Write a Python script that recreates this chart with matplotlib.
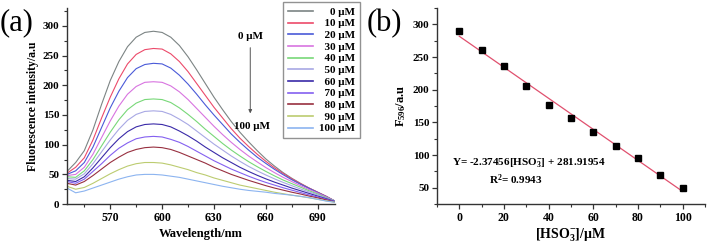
import matplotlib.pyplot as plt
import numpy as np

plt.rcParams['font.family'] = ['Liberation Serif', 'DejaVu Serif']
plt.rcParams['font.weight'] = 'bold'
plt.rcParams['axes.labelweight'] = 'bold'
plt.rcParams['mathtext.fontset'] = 'custom'
plt.rcParams['mathtext.rm'] = 'Liberation Serif:bold'
plt.rcParams['mathtext.it'] = 'Liberation Serif:italic:bold'
plt.rcParams['mathtext.bf'] = 'Liberation Serif:bold'

# panel (a): emission spectra, read every 5 nm
wavelength = list(range(545, 701, 5))
conc_labels = ['0 μM', '10 μM', '20 μM', '30 μM', '40 μM', '50 μM',
               '60 μM', '70 μM', '80 μM', '90 μM', '100 μM']
spec_0 = [55, 70, 90, 125, 168, 208, 240, 265, 281, 289, 291, 289, 281, 267, 248, 226,
          203, 180, 159, 139, 121, 105, 90, 76, 64, 53, 43.5, 35, 27, 20, 13, 5]
spec_10 = [52, 62, 78, 108, 145, 180, 211, 236, 252, 260, 262, 261, 253, 240, 223, 203,
           183, 163, 145, 127, 111, 97, 84, 72, 61, 51.5, 42.5, 34.5, 27, 20, 13, 5]
spec_20 = [50, 56, 70, 96, 129, 162, 190, 213, 228, 235, 237, 236, 229, 217, 202, 185,
           167, 150, 134, 118, 104, 91, 79, 68.5, 58.5, 49.5, 41, 33.5, 26.5, 19.5, 12.5, 5]
spec_30 = [48, 50, 62, 84, 112, 140, 165, 185, 198, 205, 206, 205, 199, 189, 176, 161,
           146, 131, 117, 104, 92, 81, 71, 61.5, 53, 45, 38, 31, 24.5, 18.5, 12, 5]
spec_40 = [46, 45, 56, 75, 98, 121, 142, 159, 170, 176, 177, 176, 171, 162, 151, 139,
           126, 114, 102, 91, 81, 71.5, 63, 55, 47.5, 40.5, 34.5, 28.5, 22.5, 17, 11, 5]
spec_50 = [43, 42, 51, 68, 88, 108, 126, 141, 151, 156, 157, 156, 151, 143, 134, 123,
           112, 101, 91, 81, 72, 63.5, 56, 49, 42.5, 36.5, 31, 25.5, 20.5, 15.5, 10, 5]
spec_60 = [40, 38, 46, 61, 78, 95, 110, 122, 130, 134, 135, 134, 130, 123, 115, 106,
           96, 87, 78, 70, 62, 55, 48.5, 42.5, 37, 32, 27, 22.5, 18, 13.5, 9, 4.5]
spec_70 = [38, 35, 42, 55, 68, 82, 94, 103, 110, 113, 114, 113, 109, 104, 97, 89,
           81, 73, 66, 59, 53, 47, 41.5, 36.5, 32, 27.5, 23.5, 19.5, 15.5, 12, 8, 4]
spec_80 = [35, 32, 38, 48, 59, 70, 79, 87, 92, 95, 96, 95, 92, 87, 81, 75,
           69, 62, 56, 50, 45, 40, 35.5, 31, 27, 23.5, 20, 17, 13.5, 10.5, 7, 3.5]
spec_90 = [30, 25, 28, 35, 43, 51, 58, 64, 68, 70, 70, 69, 66, 62, 58, 53,
           49, 44, 40, 36, 32, 29, 26, 23, 20, 17.5, 15, 13, 10.5, 8, 5.5, 3]
spec_100 = [27, 19, 22, 27, 32, 37, 42, 46, 49, 50, 50, 49, 47, 45, 42, 39,
            36, 33, 30, 27.5, 25, 23, 21.5, 20, 18, 16.5, 15, 13, 11, 8, 5, 3]
spectra = [spec_0, spec_10, spec_20, spec_30, spec_40, spec_50,
           spec_60, spec_70, spec_80, spec_90, spec_100]
colors = ['#7c8484', '#ec4a6a', '#4a5ad8', '#d874e0', '#78d878', '#a8a8e4',
          '#3a2aa8', '#8460f0', '#983040', '#bccc70', '#8cb4f0']

# panel (b): intensity at 596 nm vs concentration
conc = [0, 10, 20, 30, 40, 50, 60, 70, 80, 90, 100]
f596 = [290, 261, 237, 206, 177, 157, 135, 114, 96, 70, 50]
slope = -2.37456
intercept = 281.91954
r2 = 0.9943


def style_axis(ax, xt, xminor, yt, yminor):
    for side in ['top', 'right']:
        ax.spines[side].set_visible(False)
    for side in ['left', 'bottom']:
        ax.spines[side].set_color('#333333')
        ax.spines[side].set_linewidth(1.0)
    ax.set_xticks(xt)
    ax.set_xticklabels([str(v) for v in xt], fontweight='bold', fontsize=8.5)
    ax.set_xticks(xminor, minor=True)
    ax.set_yticks(yt)
    ax.set_yticklabels([str(v) for v in yt], fontweight='bold', fontsize=8)
    ax.set_yticks(yminor, minor=True)
    ax.tick_params(which='major', direction='out', length=3.5, width=0.9,
                   pad=2, color='#333333')
    ax.tick_params(which='minor', direction='out', length=2, width=0.8, color='#333333')


fig = plt.figure(figsize=(7.07, 2.45), dpi=100)

# ---- (a)
ax1 = fig.add_axes([0.0948, 0.167, 0.379, 0.8])
for y, c, lab in zip(spectra, colors, conc_labels):
    ax1.plot(wavelength, y, color=c, lw=0.8, label=lab)
ax1.set_xlim(545, 700)
ax1.set_ylim(0, 330)
style_axis(ax1, [570, 600, 630, 660, 690], [555, 585, 615, 645, 675],
           [0, 50, 100, 150, 200, 250, 300], [25, 75, 125, 175, 225, 275, 325])
ax1.set_xlabel('Wavelength/nm', fontsize=9, fontweight='bold', labelpad=3)
ax1.set_ylabel('Fluorescence intensity/a.u', fontsize=8.5, fontweight='bold', labelpad=3)

ax1.text(651, 283, '0 μM', ha='center', va='center', fontsize=8, fontweight='bold')
ax1.annotate('', xy=(651, 148), xytext=(651, 268),
             arrowprops=dict(arrowstyle='-|>', color='#555555', lw=0.7,
                             mutation_scale=5))
ax1.text(652, 131, '100 μM', ha='center', va='center', fontsize=8, fontweight='bold')

pad_labels = ['    0 μM', '  10 μM', '  20 μM', '  30 μM', '  40 μM', '  50 μM',
              '  60 μM', '  70 μM', '  80 μM', '  90 μM', '100 μM']
handles = ax1.get_lines()
leg = fig.legend(handles, pad_labels, loc='upper left', bbox_to_anchor=(0.3996, 0.992),
                 bbox_transform=fig.transFigure, frameon=True,
                 prop={'size': 8, 'weight': 'bold'},
                 fancybox=False, edgecolor='#777777', handlelength=2.3,
                 handletextpad=0.5, labelspacing=0.17, borderpad=0.45,
                 borderaxespad=0)
leg.get_frame().set_linewidth(1.0)
for line in leg.get_lines():
    line.set_linewidth(1.2)

fig.text(0.0, 0.965, '(a)', fontsize=22, fontweight='normal', va='top', ha='left')

# ---- (b)
ax2 = fig.add_axes([0.618, 0.167, 0.379, 0.8])
fit_x = np.array([conc[0], conc[-1]])
ax2.plot(fit_x, slope * fit_x + intercept, color='#e0506e', lw=0.9, zorder=1)
ax2.plot(conc, f596, 's', color='black', markersize=4.2, zorder=2)
ax2.set_xlim(-10, 110)
ax2.set_ylim(25, 325)
style_axis(ax2, [0, 20, 40, 60, 80, 100], [-10, 10, 30, 50, 70, 90, 110],
           [50, 100, 150, 200, 250, 300], [25, 75, 125, 175, 225, 275, 325])
ax2.set_xlabel('[HSO$_3^{-}$]/μM', fontsize=10, fontweight='bold', labelpad=2)
ax2.set_ylabel('F$_{\\mathit{596}}$/a.u', fontsize=9, fontweight='bold', labelpad=3)
ax2.text(-3.3, 88, 'Y= %.5f[HSO$_3^{-}$] + %.5f' % (slope, intercept),
         fontsize=8, fontweight='bold', ha='left', va='center')
ax2.text(13.5, 62, 'R$^2$= %.4f' % r2, fontsize=8, fontweight='bold',
         ha='left', va='center')

fig.text(0.519, 0.965, '(b)', fontsize=22, fontweight='normal', va='top', ha='left')

fig.savefig('out.png', dpi=100)
